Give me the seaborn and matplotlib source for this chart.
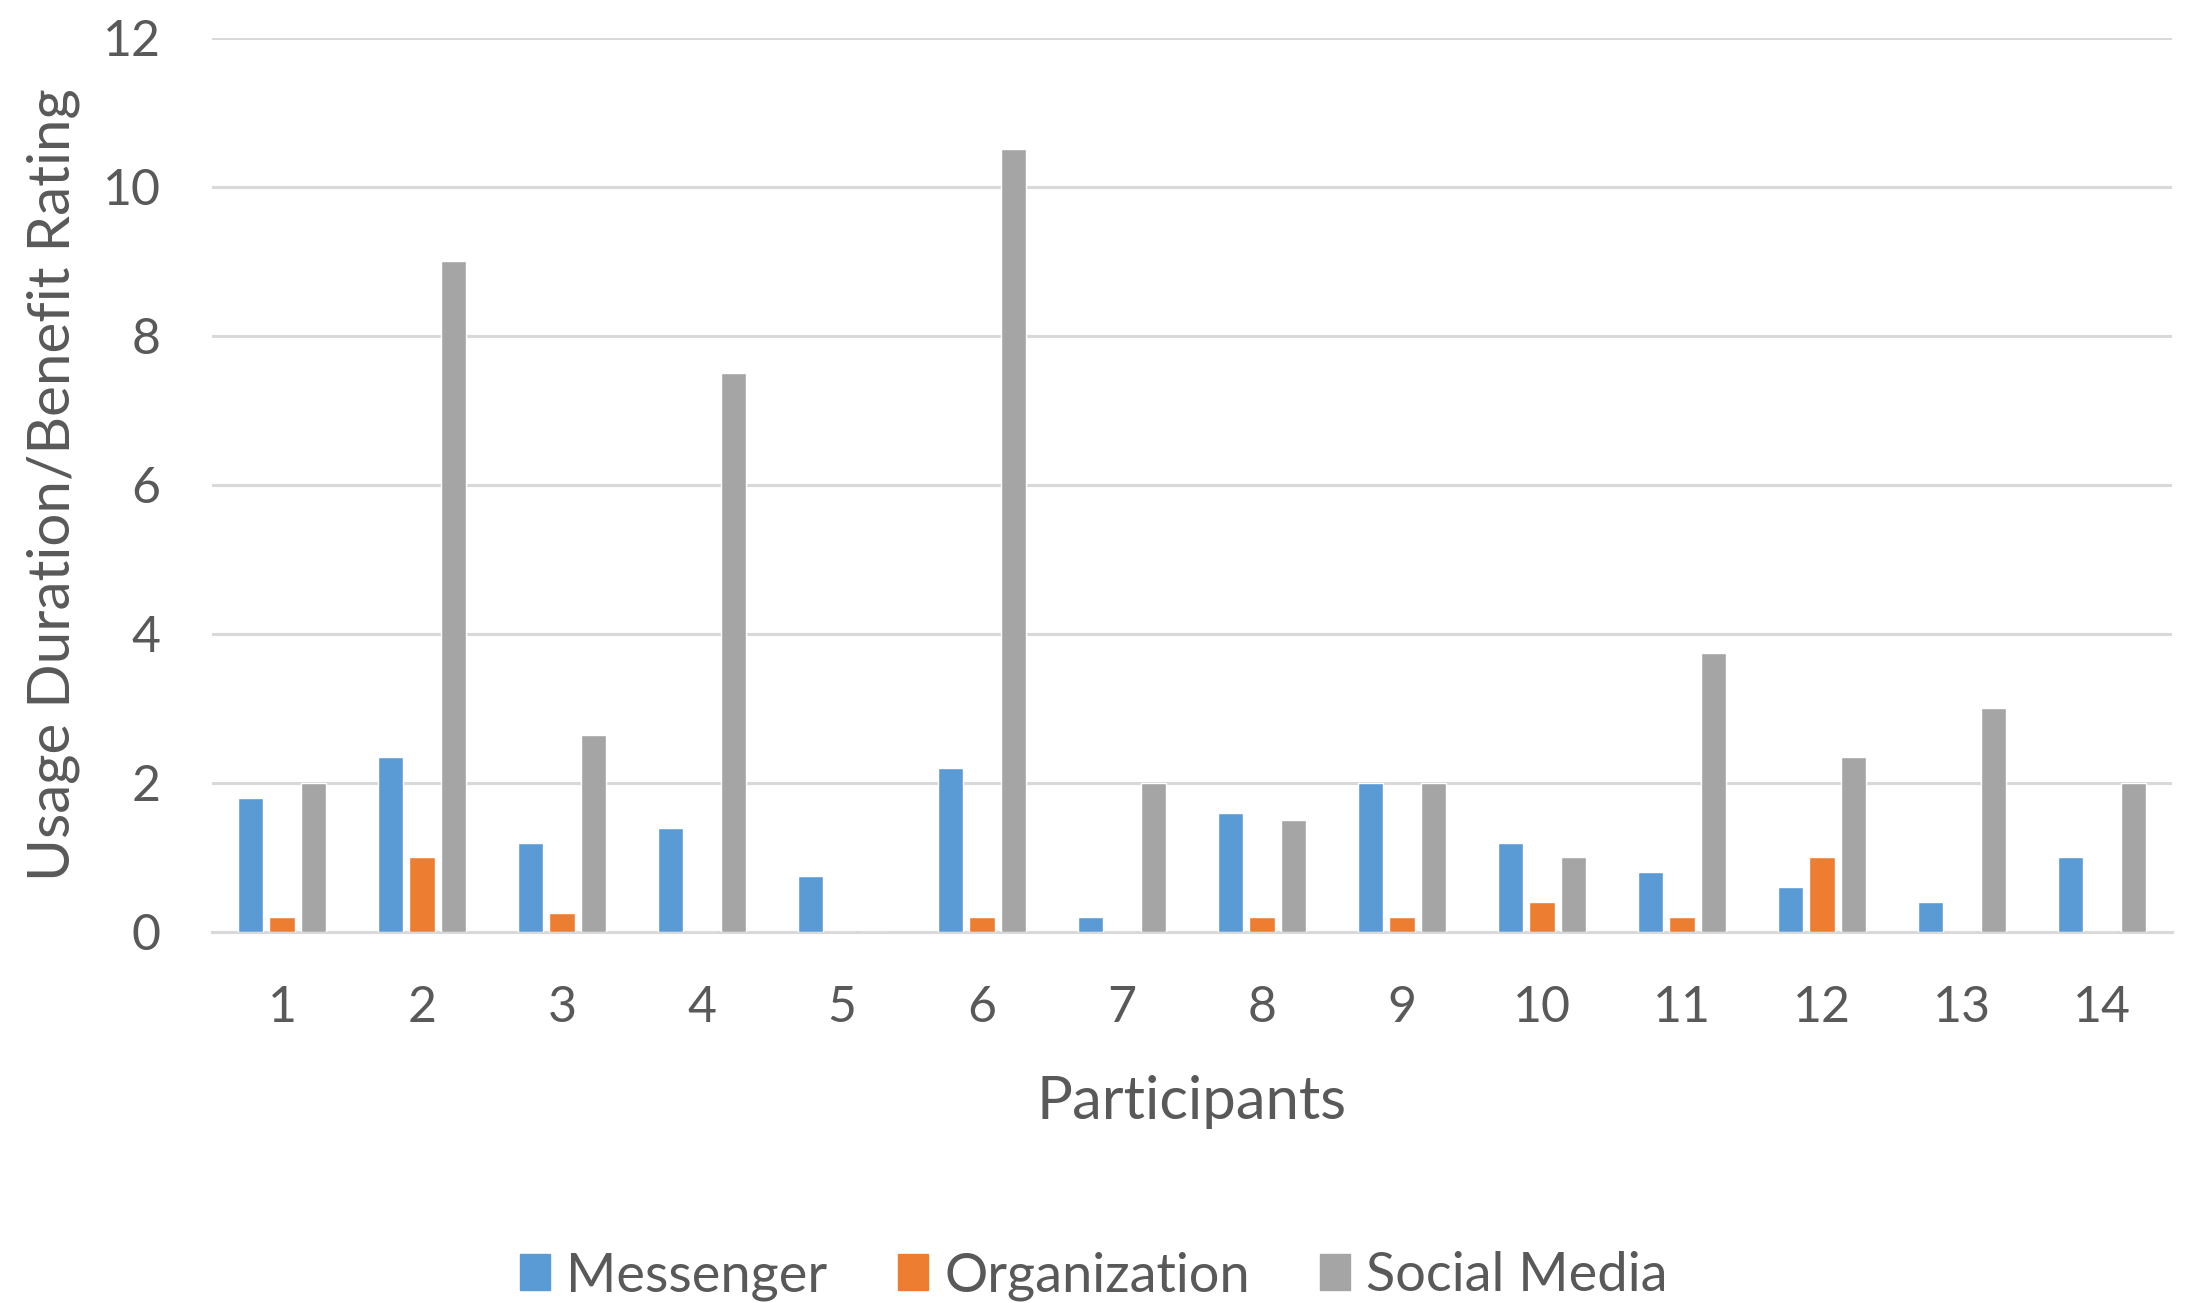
import matplotlib
matplotlib.use("Agg")
import matplotlib.pyplot as plt
import matplotlib.patches as mpatches
import pandas as pd
import seaborn as sns

participants = [str(i) for i in range(1, 15)]
messenger = [1.8, 2.35, 1.2, 1.4, 0.75, 2.2, 0.2, 1.6, 2.0, 1.2, 0.8, 0.6, 0.4, 1.0]
organization = [0.2, 1.0, 0.25, 0.0, 0.0, 0.2, 0.0, 0.2, 0.2, 0.4, 0.2, 1.0, 0.0, 0.0]
social_media = [2.0, 9.0, 2.65, 7.5, 0.0, 10.5, 2.0, 1.5, 2.0, 1.0, 3.75, 2.35, 3.0, 2.0]
series_names = ["Messenger", "Organization", "Social Media"]
colors = ["#5B9BD5", "#ED7D31", "#A5A5A5"]
y_ticks = [0, 2, 4, 6, 8, 10, 12]

rows = []
for name, vals in zip(series_names, [messenger, organization, social_media]):
    for p, v in zip(participants, vals):
        rows.append({"Participant": p, "Value": v, "Series": name})
df = pd.DataFrame(rows)

sns.set_theme(style="white")
plt.rcParams["font.family"] = ["Lato", "DejaVu Sans"]
text_color = "#595959"
grid_color = "#D9D9D9"

W, H = 2188, 1303
fig = plt.figure(figsize=(W / 100, H / 100), dpi=100)
left, right, top, bottom = 212, 2172, 37.7, 932
ax = fig.add_axes([left / W, 1 - bottom / H, (right - left) / W, (bottom - top) / H])

sns.barplot(data=df, x="Participant", y="Value", hue="Series", order=participants,
            hue_order=series_names, palette=colors, width=0.67, gap=0.2,
            saturation=1, errorbar=None, legend=False, ax=ax, zorder=3)

ax.set_xlim(-0.5, len(participants) - 0.5)
ax.set_ylim(0, 12)
ax.set_yticks(y_ticks)
ax.set_yticklabels([str(t) for t in y_ticks])
ax.yaxis.grid(True, color=grid_color, linewidth=2.2, zorder=0)
ax.set_axisbelow(True)
for side in ["top", "right", "left"]:
    ax.spines[side].set_visible(False)
ax.spines["bottom"].set_color(grid_color)
ax.spines["bottom"].set_linewidth(2.2)
ax.tick_params(axis="both", length=0, labelsize=36, colors=text_color)
ax.tick_params(axis="y", pad=37)
ax.tick_params(axis="x", pad=38)

ax.set_xlabel("Participants", fontsize=43, color=text_color, labelpad=32)
ax.set_ylabel("Usage Duration/Benefit Rating", fontsize=42, color=text_color, labelpad=16)

handles = [mpatches.Patch(color=c, label=n) for n, c in zip(series_names, colors)]
fig.legend(handles=handles, loc="center", bbox_to_anchor=(0.5, 1 - 1276 / H), ncol=3,
           frameon=False, fontsize=39, labelcolor=text_color, handlelength=0.55,
           handleheight=0.65, handletextpad=0.3, columnspacing=1.3)

fig.savefig("out.png", dpi=100, facecolor="white")
